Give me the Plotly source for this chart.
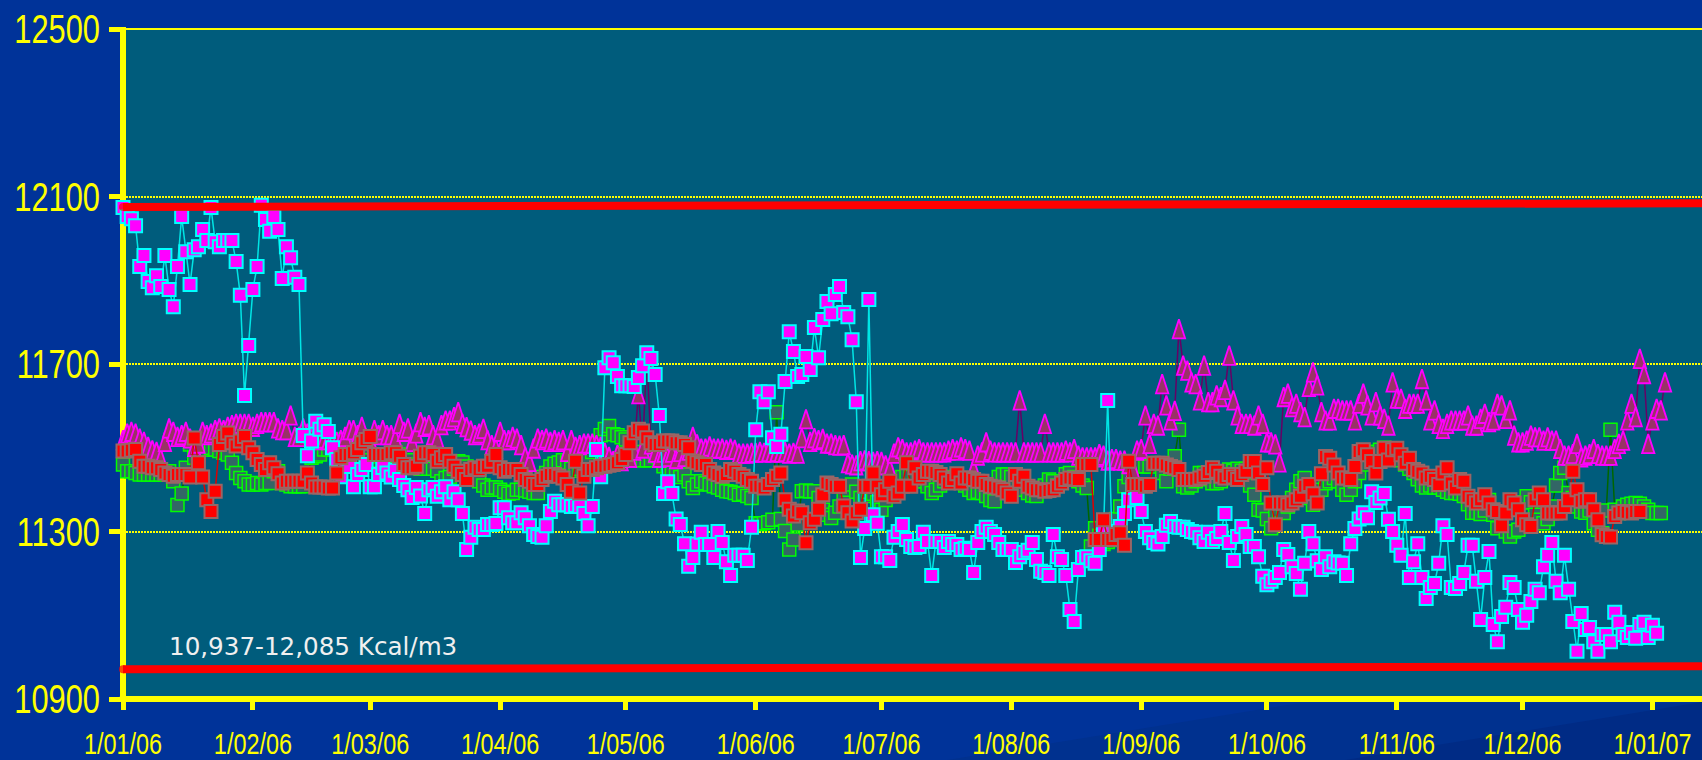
import pandas as pd
import plotly.graph_objects as go

tick_dates = ["2006-01-01","2006-02-01","2006-03-01","2006-04-01","2006-05-01","2006-06-01","2006-07-01",
              "2006-08-01","2006-09-01","2006-10-01","2006-11-01","2006-12-01","2007-01-01"]
tick_labels = ["1/01/06","1/02/06","1/03/06","1/04/06","1/05/06","1/06/06","1/07/06",
               "1/08/06","1/09/06","1/10/06","1/11/06","1/12/06","1/01/07"]
y_ticks = [10900, 11300, 11700, 12100, 12500]
y_labels = ["10900", "11300", "11700", "12100", "12500"]
note_text = "10,937-12,085 Kcal/m3"
limit_x = ["2006-01-01", "2007-01-13"]
limit_upper = [12075, 12084]
limit_lower = [10971, 10978]

cyan_values = [
12074,12052,12047,12030,11933,11959,11897,11882,11911,11885,
11959,11878,11837,11933,12052,11968,11890,11973,11980,12021,
11995,12074,11992,11980,11995,11995,11995,11945,11864,11625,
11744,11878,11933,12079,12045,12017,12052,12021,11904,11980,
11954,11907,11890,11529,11481,11516,11563,11544,11555,11539,
11500,11472,11431,11455,11455,11407,11436,11448,11460,11407,
11407,11436,11453,11440,11430,11446,11424,11410,11400,11381,
11405,11385,11343,11400,11405,11384,11395,11407,11376,11395,
11376,11343,11257,11286,11310,11305,11305,11317,11317,11319,
11357,11357,11333,11321,11321,11345,11333,11314,11293,11288,
11286,11314,11348,11372,11364,11364,11364,11360,11362,11360,
11343,11314,11360,11496,11431,11691,11715,11703,11670,11648,
11648,11648,11646,11668,11696,11727,11713,11675,11577,11391,
11419,11391,11330,11317,11271,11217,11238,11270,11298,11269,
11269,11238,11300,11274,11228,11195,11243,11243,11243,11231,
11310,11543,11634,11610,11634,11524,11503,11532,11658,11777,
11730,11670,11675,11718,11687,11787,11715,11806,11849,11820,
11866,11885,11823,11813,11758,11610,11238,11307,11854,11340,
11320,11240,11240,11231,11286,11300,11317,11281,11264,11262,
11264,11298,11276,11195,11276,11276,11262,11276,11269,11269,
11257,11260,11257,11202,11274,11300,11310,11300,11293,11274,
11257,11257,11257,11226,11240,11250,11255,11274,11233,11205,
11202,11195,11293,11240,11233,11195,11114,11085,11209,11238,
11240,11230,11224,11257,11300,11613,11300,11298,11312,11343,
11376,11405,11381,11348,11300,11285,11274,11270,11288,11315,
11324,11312,11310,11310,11305,11300,11298,11285,11276,11298,
11276,11283,11300,11343,11274,11231,11288,11312,11293,11264,
11264,11240,11193,11173,11181,11190,11202,11257,11245,11216,
11200,11162,11224,11300,11271,11230,11209,11240,11216,11228,
11225,11224,11195,11271,11307,11330,11345,11333,11395,11369,
11380,11391,11329,11300,11267,11243,11343,11190,11228,11271,
11190,11140,11166,11176,11224,11314,11293,11166,11164,11176,
11202,11267,11267,11181,11090,11190,11252,11078,11037,11097,
11119,11178,11166,11114,11083,11100,11133,11162,11154,11216,
11243,11274,11181,11154,11243,11162,11085,11014,11104,11066,
11071,11037,11014,11054,11054,11037,11107,11083,11054,11047,
11059,11045,11078,11083,11047,11076,11057]

triangle_values = [
11520,11536,11540,11536,11524,11516,11504,11496,11492,11476,
11516,11548,11540,11528,11532,11540,11524,11504,11512,11540,
11532,11536,11544,11548,11544,11552,11556,11559,11559,11559,
11559,11552,11559,11563,11563,11563,11563,11548,11544,11544,
11579,11528,11528,11548,11536,11524,11520,11524,11524,11520,
11528,11516,11520,11528,11544,11544,11532,11552,11524,11520,
11544,11532,11544,11532,11532,11524,11559,11540,11548,11516,
11536,11563,11552,11556,11532,11524,11556,11567,11567,11575,
11587,11559,11551,11543,11532,11536,11547,11520,11508,11500,
11540,11520,11520,11528,11524,11508,11480,11468,11500,11524,
11520,11524,11516,11520,11516,11520,11492,11520,11504,11508,
11512,11512,11512,11508,11504,11490,11480,11470,11485,11470,
11490,11478,11495,11630,11500,11715,11510,11490,11478,11490,
11480,11490,11475,11492,11480,11495,11528,11510,11500,11500,
11505,11500,11500,11500,11497,11500,11497,11488,11488,11488,
11490,11490,11492,11490,11492,11490,11492,11490,11492,11488,
11490,11488,11525,11570,11516,11525,11520,11523,11512,11512,
11508,11507,11508,11465,11462,11460,11470,11472,11470,11468,
11470,11468,11460,11452,11488,11503,11499,11491,11491,11495,
11499,11491,11491,11491,11491,11491,11491,11495,11499,11495,
11503,11499,11495,11452,11483,11491,11515,11495,11491,11491,
11491,11491,11491,11491,11615,11491,11491,11491,11491,11491,
11559,11491,11491,11491,11491,11495,11491,11499,11483,11479,
11479,11479,11479,11487,11483,11471,11475,11475,11471,11471,
11463,11452,11495,11499,11579,11511,11559,11555,11654,11603,
11567,11590,11785,11698,11686,11658,11654,11615,11698,11611,
11611,11627,11623,11640,11722,11615,11579,11559,11559,11559,
11555,11579,11559,11515,11515,11510,11467,11623,11631,11599,
11607,11587,11575,11647,11682,11651,11587,11567,11567,11595,
11595,11591,11591,11591,11567,11607,11631,11603,11579,11611,
11579,11571,11555,11658,11619,11619,11595,11607,11607,11607,
11666,11615,11567,11591,11559,11547,11559,11567,11567,11567,
11567,11579,11555,11555,11571,11583,11563,11567,11607,11603,
11571,11591,11531,11515,11515,11519,11531,11527,11527,11519,
11527,11519,11519,11499,11483,11483,11487,11511,11479,11483,
11487,11499,11487,11483,11483,11483,11499,11511,11519,11567,
11607,11575,11714,11678,11511,11567,11595,11591,11658]

green_values = [
11460,11444,11444,11440,11436,11436,11436,11436,11436,11436,
11436,11444,11420,11363,11391,11452,11508,11476,11492,11496,
11496,11500,11496,11492,11488,11484,11464,11440,11428,11420,
11412,11412,11416,11412,11416,11416,11444,11444,11416,11412,
11408,11408,11408,11408,11432,11476,11480,11484,11496,11496,
11500,11512,11520,11512,11496,11480,11490,11480,11470,11470,
11470,11480,11480,11475,11470,11480,11490,11504,11484,11470,
11460,11450,11450,11450,11450,11445,11420,11428,11430,11450,
11468,11465,11455,11445,11430,11420,11410,11400,11405,11405,
11400,11395,11390,11392,11400,11400,11398,11395,11392,11392,
11430,11440,11455,11462,11465,11470,11465,11450,11445,11450,
11460,11470,11490,11510,11530,11545,11552,11532,11530,11525,
11520,11510,11490,11470,11470,11470,11470,11480,11470,11456,
11450,11440,11435,11430,11436,11420,11404,11412,11420,11415,
11412,11408,11405,11400,11396,11395,11392,11388,11390,11385,
11380,11320,11318,11320,11322,11328,11585,11330,11301,11257,
11281,11317,11396,11398,11396,11396,11380,11352,11340,11332,
11345,11360,11380,11400,11412,11395,11380,11385,11395,11390,
11370,11352,11375,11400,11410,11420,11430,11440,11430,11425,
11420,11420,11408,11392,11400,11410,11420,11430,11420,11420,
11420,11410,11400,11392,11395,11392,11385,11375,11372,11430,
11436,11436,11430,11420,11410,11400,11392,11386,11385,11400,
11410,11424,11420,11410,11420,11437,11440,11430,11420,11410,
11404,11264,11308,11290,11270,11275,11280,11330,11360,11408,
11430,11400,11410,11455,11456,11455,11462,11462,11440,11420,
11450,11480,11543,11408,11405,11410,11420,11440,11440,11425,
11415,11416,11420,11440,11448,11445,11450,11445,11450,11410,
11388,11352,11350,11330,11308,11344,11350,11344,11360,11380,
11400,11420,11428,11380,11364,11380,11400,11415,11420,11428,
11420,11400,11388,11400,11420,11440,11460,11487,11490,11490,
11495,11500,11499,11495,11485,11470,11460,11450,11440,11425,
11410,11405,11410,11405,11405,11400,11395,11392,11392,11390,
11385,11365,11345,11345,11342,11350,11375,11340,11308,11330,
11300,11288,11300,11304,11370,11384,11370,11340,11328,11320,
11330,11360,11410,11440,11452,11392,11380,11360,11348,11345,
11350,11320,11304,11296,11350,11543,11352,11344,11360,11364,
11366,11368,11366,11360,11352,11344,11344,11344]

red_values = [
11492,11492,11494,11496,11468,11456,11456,11452,11452,11448,
11440,11436,11432,11436,11436,11436,11430,11523,11464,11430,
11376,11348,11396,11508,11527,11535,11512,11504,11516,11527,
11500,11488,11472,11460,11448,11464,11452,11438,11416,11420,
11420,11420,11420,11420,11440,11416,11406,11406,11406,11404,
11404,11440,11476,11484,11484,11488,11496,11512,11520,11527,
11484,11484,11484,11484,11488,11488,11480,11460,11452,11452,
11456,11480,11488,11488,11484,11468,11476,11484,11468,11456,
11444,11436,11424,11448,11452,11448,11456,11456,11468,11484,
11452,11444,11448,11448,11448,11436,11424,11420,11412,11412,
11424,11432,11436,11436,11432,11428,11412,11396,11468,11392,
11432,11448,11448,11452,11456,11456,11458,11460,11464,11472,
11484,11512,11536,11544,11540,11524,11512,11508,11508,11516,
11516,11516,11512,11512,11508,11500,11468,11464,11460,11460,
11448,11440,11436,11432,11436,11448,11444,11436,11432,11424,
11420,11408,11408,11404,11412,11424,11432,11440,11376,11353,
11337,11349,11345,11273,11321,11329,11353,11388,11416,11412,
11408,11408,11361,11345,11325,11345,11353,11408,11408,11440,
11408,11388,11400,11420,11384,11392,11408,11464,11408,11452,
11428,11436,11444,11444,11441,11436,11428,11416,11424,11438,
11416,11428,11428,11424,11420,11420,11412,11408,11406,11404,
11400,11392,11384,11436,11420,11432,11408,11404,11400,11400,
11396,11398,11400,11408,11416,11424,11428,11426,11424,11460,
11460,11460,11281,11281,11328,11281,11281,11293,11297,11267,
11468,11412,11412,11412,11408,11412,11463,11463,11463,11459,
11455,11452,11448,11424,11424,11424,11425,11428,11432,11441,
11452,11444,11432,11428,11436,11430,11424,11436,11444,11467,
11467,11440,11412,11452,11368,11316,11368,11368,11364,11368,
11376,11384,11408,11412,11390,11368,11438,11479,11475,11459,
11440,11428,11428,11424,11455,11491,11495,11483,11467,11440,
11467,11499,11471,11495,11499,11483,11463,11475,11448,11444,
11440,11428,11432,11424,11412,11440,11452,11416,11404,11424,
11420,11384,11376,11368,11376,11388,11368,11352,11348,11314,
11344,11376,11368,11352,11328,11316,11312,11376,11392,11376,
11344,11344,11344,11344,11360,11376,11444,11400,11372,11376,
11376,11352,11328,11292,11288,11287,11336,11344,11348,11346,
11344,11348,11348]

dates = pd.date_range("2006-01-01", periods=400)
TRIANGLE_LIFT = 21.5

fig = go.Figure()
fig.add_trace(go.Scatter(x=dates[:len(green_values)], y=green_values, mode="lines+markers", yaxis="y", cliponaxis=False,
    line=dict(color="#006600", width=1.5),
    marker=dict(symbol="square", size=13, color="#336666", line=dict(color="#00FF00", width=1.5))))
fig.add_trace(go.Scatter(x=dates[:len(triangle_values)], y=triangle_values, mode="lines", yaxis="y", cliponaxis=False,
    line=dict(color="#660066", width=1.5)))
fig.add_trace(go.Scatter(x=dates[:len(triangle_values)], y=triangle_values, mode="markers", yaxis="y2", cliponaxis=False,
    marker=dict(symbol="arrow", size=20, color="#993366", line=dict(color="#FF00FF", width=1.8))))
fig.add_trace(go.Scatter(x=dates[:len(cyan_values)], y=cyan_values, mode="lines+markers", yaxis="y3", cliponaxis=False,
    line=dict(color="#00E5E5", width=1.5),
    marker=dict(symbol="square", size=13, color="#FF00FF", line=dict(color="#00FFFF", width=2))))
fig.add_trace(go.Scatter(x=dates[:len(red_values)], y=red_values, mode="lines+markers", yaxis="y3", cliponaxis=False,
    line=dict(color="#DD0000", width=1.5),
    marker=dict(symbol="square", size=13, color="#FF0000", line=dict(color="#996666", width=2))))
for lim in (limit_upper, limit_lower):
    fig.add_trace(go.Scatter(x=limit_x, y=lim, mode="lines+markers", yaxis="y3", cliponaxis=False,
        line=dict(color="#FF0000", width=8), marker=dict(size=[8, 0], color="#FF0000", line=dict(width=0))))

YEL = "#FFFF00"
font_label = "Liberation Sans"
fig.update_layout(
    width=1702, height=760, showlegend=False, hovermode=False,
    margin=dict(l=123, r=0, t=29, b=61, pad=0),
    paper_bgcolor="#003399", plot_bgcolor="#005C7C",
    xaxis=dict(type="date", range=["2006-01-01", "2007-01-12 20:00"], tickmode="array",
               tickvals=tick_dates, ticktext=tick_labels, ticks="outside", ticklen=10, tickwidth=5,
               tickcolor=YEL, showgrid=False, showline=False, zeroline=False, automargin=False,
               ticklabeloverflow="allow",
               tickfont=dict(family=font_label, size=30, color=YEL), ticklabelstandoff=8),
    yaxis=dict(range=[10900, 12500], tickmode="array", tickvals=y_ticks, ticktext=y_labels, ticks="outside",
               ticklen=13, tickwidth=5, tickcolor=YEL, showgrid=True, gridcolor=YEL, gridwidth=1.5,
               griddash="2px,1px", showline=False, zeroline=False, automargin=False,
               tickfont=dict(family=font_label, size=40, color=YEL), ticklabelstandoff=1),
    yaxis2=dict(range=[10900 - TRIANGLE_LIFT, 12500 - TRIANGLE_LIFT], overlaying="y", visible=False),
    yaxis3=dict(range=[10900, 12500], overlaying="y", visible=False),
    shapes=[
        dict(type="path", xref="paper", yref="paper", layer="below", line=dict(width=0), fillcolor="#00318F",
             path="M 0.52 -0.0918 L 0.7436 -0.0067 L 1 -0.0067 L 1 -0.0918 Z"),
        dict(type="path", xref="paper", yref="paper", layer="below", line=dict(width=0), fillcolor="#002B85",
             path="M 0.772 -0.0918 L 1 -0.0045 L 1 -0.0918 Z"),
        dict(type="line", xref="paper", yref="paper", x0=0, x1=1, y0=1, y1=1, layer="below",
             line=dict(color=YEL, width=2)),
        dict(type="line", xref="paper", yref="paper", x0=-0.002, x1=1, y0=0, y1=0, layer="below",
             line=dict(color=YEL, width=6)),
        dict(type="line", xref="paper", yref="paper", x0=0, x1=0, y0=-0.004, y1=1.003, layer="below",
             line=dict(color=YEL, width=6)),
    ],
    annotations=[dict(text=note_text, x="2006-01-11 11:00", y=11025, xref="x", yref="y", xanchor="left",
                      yanchor="middle", showarrow=False,
                      font=dict(family="DejaVu Sans", size=24.6, color="#F0F0F0"))],
)
post = """
document.body.style.margin='0';document.body.style.overflow='hidden';
document.querySelectorAll('.xtick text').forEach(function(t){
  t.setAttribute('textLength', t.getComputedTextLength()*0.78);
  t.setAttribute('lengthAdjust','spacingAndGlyphs');});
document.querySelectorAll('.ytick text').forEach(function(t){
  t.setAttribute('textLength', t.getComputedTextLength()*0.77);
  t.setAttribute('lengthAdjust','spacingAndGlyphs');});
"""
fig.write_html("out.html", post_script=post, config=dict(displayModeBar=False))
